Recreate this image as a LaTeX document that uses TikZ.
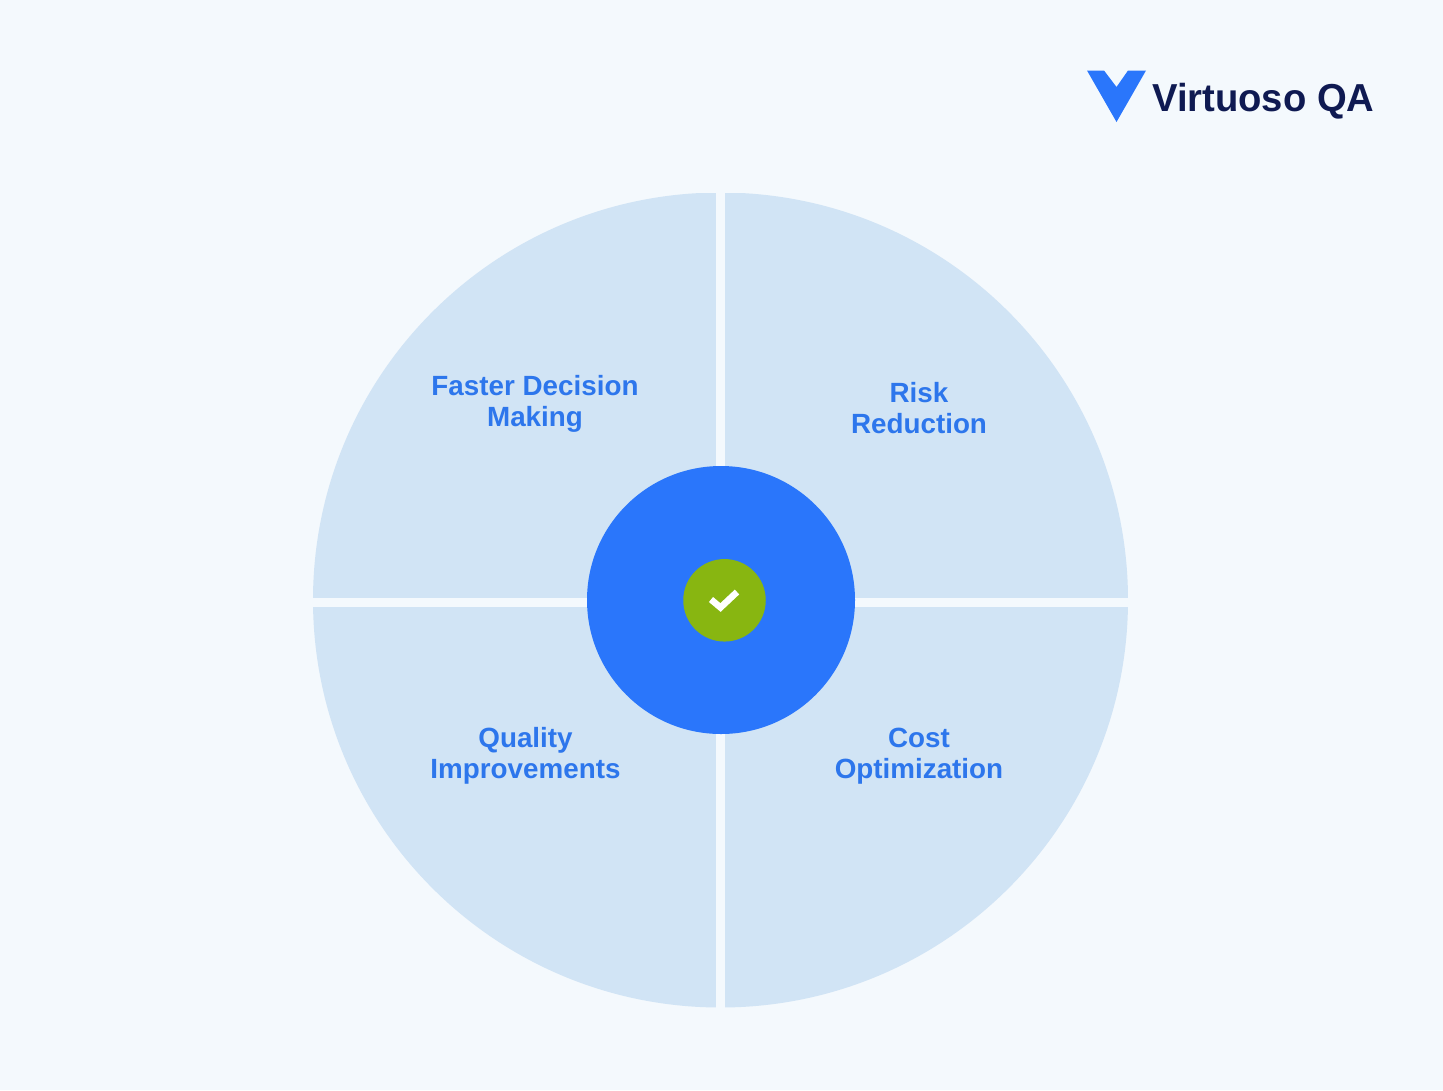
\documentclass[tikz,border=0pt]{standalone}
\usepackage{fontspec}
\setmainfont{Liberation Sans}
\newfontfamily\logofont[FakeStretch=0.98]{Liberation Sans}
\definecolor{bgc}{HTML}{F4F9FD}
\definecolor{quad}{HTML}{D1E4F5}
\definecolor{blue}{HTML}{2A76FB}
\definecolor{labelc}{HTML}{2D76EC}
\definecolor{greenc}{HTML}{88B611}
\definecolor{navy}{HTML}{0F1A52}
\tikzset{
  quadrant/.style={fill=quad,draw=none},
  lbl/.style={text=labelc,font=\bfseries\fontsize{27.8}{31}\selectfont,align=center,inner sep=0pt},
}
\begin{document}
\begin{tikzpicture}[x=1pt,y=-1pt]
\useasboundingbox (0,0) rectangle (1443,1090);
\fill[bgc] (0,0) rectangle (1443,1090);
\begin{scope}
\clip (720.5,600) circle[radius=407.5];
\fill[quadrant] (313,193) rectangle (716,598);
\fill[quadrant] (724.5,193) rectangle (1128,598);
\fill[quadrant] (313,606.5) rectangle (716,1007.5);
\fill[quadrant] (724.5,606.5) rectangle (1128,1007.5);
\end{scope}
\node[circle,fill=blue,minimum size=268pt,inner sep=0pt] (hub) at (721,600) {};
\node[circle,fill=greenc,minimum size=82.5pt,inner sep=0pt] (badge) at (724.5,600.3) {};
\draw[white,line width=6.5pt] (711,599.5) -- (720.5,607.5) -- (737,592);
\node[lbl] (a) at (535,404) {Faster Decision\\Making};
\node[lbl] (b) at (919,408) {Risk\\Reduction};
\node[lbl] (c) at (525.5,756) {Quality\\Improvements};
\node[lbl] (d) at (919,756.5) {Cost\\Optimization};
\fill[blue] (1087,70.5) -- (1104,70.5) -- (1116.5,87) -- (1128,70.5) -- (1146,70.5) -- (1116.5,122) -- cycle;
\node[anchor=base west,inner sep=0pt,text=navy,font=\logofont\bfseries\fontsize{39}{44}\selectfont] (logo) at (1152,111) {Virtuoso QA};
\end{tikzpicture}
\end{document}
